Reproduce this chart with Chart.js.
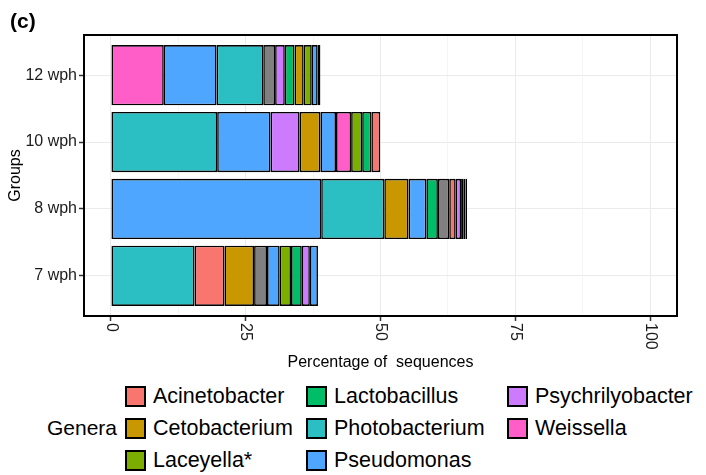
<!DOCTYPE html>
<html>
<head>
<meta charset="utf-8">
<script src="https://cdn.jsdelivr.net/npm/chart.js@4.4.1/dist/chart.umd.min.js"></script>
<style>
  html, body { margin: 0; padding: 0; background: #fff; }
  body { width: 706px; height: 475px; position: relative; overflow: hidden;
         font-family: "Liberation Sans", Arial, sans-serif; color: #000; }
  #wrap { position: absolute; left: 0; top: 0; width: 706px; height: 378px; }
  #legendTitle { position: absolute; left: 47px; top: 415px; font-size: 21px; line-height: 26px; }
  #legend { position: absolute; left: 125px; top: 380px; display: grid;
            grid-template-columns: 181px 201px auto; grid-template-rows: repeat(3, 32px);
            grid-auto-flow: column; font-size: 21.5px; }
  .item { display: flex; align-items: center; white-space: nowrap; }
  .sw { width: 21px; height: 21px; box-sizing: border-box; border: 2px solid #000; margin-right: 7px; }
</style>
</head>
<body>
<div id="wrap"><canvas id="chart"></canvas></div>
<div id="legendTitle">Genera</div>
<div id="legend"></div>
<script>
// groups from bottom to top
const groups = ['7 wph', '8 wph', '10 wph', '12 wph'];

// segments of each bar, largest first (as in the figure)
const genera7 = ['Photobacterium', 'Acinetobacter', 'Cetobacterium', 'NA', 'Pseudomonas', 'Laceyella*', 'Lactobacillus', 'Psychrilyobacter', 'Pseudomonas'];
const values7 = [15.5, 5.55, 5.5, 2.4, 2.35, 2.1, 2.0, 1.5, 1.5];

const genera8 = ['Pseudomonas', 'Photobacterium', 'Cetobacterium', 'Pseudomonas', 'Lactobacillus', 'NA', 'Acinetobacter', 'Psychrilyobacter', 'Weissella', 'Laceyella*', 'Pseudomonas'];
const values8 = [39.0, 11.7, 4.5, 3.3, 2.15, 2.1, 1.2, 1.0, 0.4, 0.4, 0.3];

const genera10 = ['Photobacterium', 'Pseudomonas', 'Psychrilyobacter', 'Cetobacterium', 'Pseudomonas', 'Weissella', 'Laceyella*', 'Lactobacillus', 'Acinetobacter'];
const values10 = [19.7, 9.9, 5.4, 3.85, 2.9, 2.8, 2.05, 1.7, 1.65];

const genera12 = ['Weissella', 'Pseudomonas', 'Photobacterium', 'NA', 'Psychrilyobacter', 'Lactobacillus', 'Cetobacterium', 'Laceyella*', 'Pseudomonas', 'Acinetobacter'];
const values12 = [9.8, 9.8, 8.65, 2.2, 1.8, 1.8, 1.7, 1.5, 1.1, 0.5];

const xTicks = [0, 25, 50, 75, 100];
const legendGenera = ['Acinetobacter', 'Cetobacterium', 'Laceyella*', 'Lactobacillus', 'Photobacterium', 'Pseudomonas', 'Psychrilyobacter', 'Weissella'];

const genusColors = {
    'Acinetobacter': '#F8766D',
    'Cetobacterium': '#C99800',
    'Laceyella*': '#7CAE00',
    'Lactobacillus': '#00BE67',
    'Photobacterium': '#2BBFC3',
    'Pseudomonas': '#4FA6FF',
    'Psychrilyobacter': '#CC7BFF',
    'Weissella': '#FF5EC9',
    'NA': '#808080'
};

const bars = [
    { genera: genera7, values: values7 },
    { genera: genera8, values: values8 },
    { genera: genera10, values: values10 },
    { genera: genera12, values: values12 }
];

// one dataset per stacking position, so each bar keeps its own order
const maxSegments = Math.max(...bars.map(b => b.values.length));
const datasets = [];
for (let k = 0; k < maxSegments; k++) {
    datasets.push({
        label: 'segment ' + (k + 1),
        data: bars.map((b, i) => ({ x: b.values[k] !== undefined ? b.values[k] : null, y: i + 1 })),
        backgroundColor: bars.map(b => genusColors[b.genera[k]] || 'rgba(0,0,0,0)'),
        borderColor: '#000',
        borderWidth: 1.6,
        borderSkipped: false,
        barPercentage: 0.9,
        categoryPercentage: 1.0
    });
}

const FONT = '"Liberation Sans", Arial, sans-serif';

// panel border, rotated x tick labels and the panel tag
const panelPlugin = {
    id: 'panel',
    afterDraw(chart) {
        const { ctx, chartArea: a } = chart;
        const x = chart.scales.x;
        ctx.save();
        ctx.strokeStyle = '#000';
        ctx.lineWidth = 2;
        ctx.strokeRect(a.left, a.top, a.right - a.left, a.bottom - a.top);

        ctx.fillStyle = '#1a1a1a';
        ctx.font = '16px ' + FONT;
        ctx.textAlign = 'left';
        ctx.textBaseline = 'middle';
        xTicks.forEach(v => {
            ctx.save();
            ctx.translate(x.getPixelForValue(v), a.bottom + 7);
            ctx.rotate(Math.PI / 2);
            ctx.fillText(String(v), 0, 0);
            ctx.restore();
        });

        ctx.fillStyle = '#000';
        ctx.font = 'bold 21px ' + FONT;
        ctx.textBaseline = 'alphabetic';
        ctx.fillText('(c)', 10, 28);
        ctx.restore();
    }
};

new Chart(document.getElementById('chart'), {
    type: 'bar',
    data: { datasets: datasets },
    options: {
        indexAxis: 'y',
        responsive: true,
        maintainAspectRatio: false,
        animation: false,
        layout: { padding: { top: 35, right: 29, bottom: 0, left: 0 } },
        scales: {
            x: {
                type: 'linear',
                stacked: true,
                min: -5,
                max: 105,
                offset: false,
                border: { display: false },
                grid: {
                    offset: false,
                    color: '#EBEBEB',
                    lineWidth: ctx => (ctx.tick && ctx.tick.value % 25 === 0 ? 1 : 0.5),
                    tickColor: ctx => (ctx.tick && ctx.tick.value % 25 === 0 ? '#333' : 'rgba(0,0,0,0)'),
                    tickLength: 5,
                    tickWidth: 1.5
                },
                ticks: { display: false, stepSize: 12.5, includeBounds: false },
                title: {
                    display: true,
                    text: 'Percentage of  sequences',
                    color: '#000',
                    font: { family: FONT, size: 16 },
                    padding: { top: 0, bottom: 6 }
                },
                afterFit: scale => { scale.height = 62; }
            },
            y: {
                type: 'linear',
                stacked: true,
                min: 0.4,
                max: 4.6,
                offset: false,
                border: { display: false },
                grid: {
                    offset: false,
                    color: '#EBEBEB',
                    lineWidth: 1,
                    tickColor: '#333',
                    tickLength: 5,
                    tickWidth: 1.5
                },
                ticks: {
                    stepSize: 1,
                    includeBounds: false,
                    padding: 2,
                    color: '#1a1a1a',
                    font: { family: FONT, size: 16 },
                    callback: v => groups[v - 1] || ''
                },
                title: {
                    display: true,
                    text: 'Groups',
                    color: '#000',
                    font: { family: FONT, size: 16 },
                    padding: { top: 6, bottom: 0 }
                },
                afterFit: scale => { scale.width = 84; }
            }
        },
        plugins: {
            legend: { display: false },
            tooltip: {
                callbacks: {
                    title: items => groups[items[0].parsed.y - 1],
                    label: item => `${bars[item.dataIndex].genera[item.datasetIndex]}: ${item.parsed.x}%`
                }
            }
        }
    },
    plugins: [panelPlugin]
});

// legend, filled column by column
const legendEl = document.getElementById('legend');
legendGenera.forEach(name => {
    const item = document.createElement('div');
    item.className = 'item';
    const sw = document.createElement('span');
    sw.className = 'sw';
    sw.style.background = genusColors[name];
    const txt = document.createElement('span');
    txt.textContent = name;
    item.appendChild(sw);
    item.appendChild(txt);
    legendEl.appendChild(item);
});
</script>
</body>
</html>
